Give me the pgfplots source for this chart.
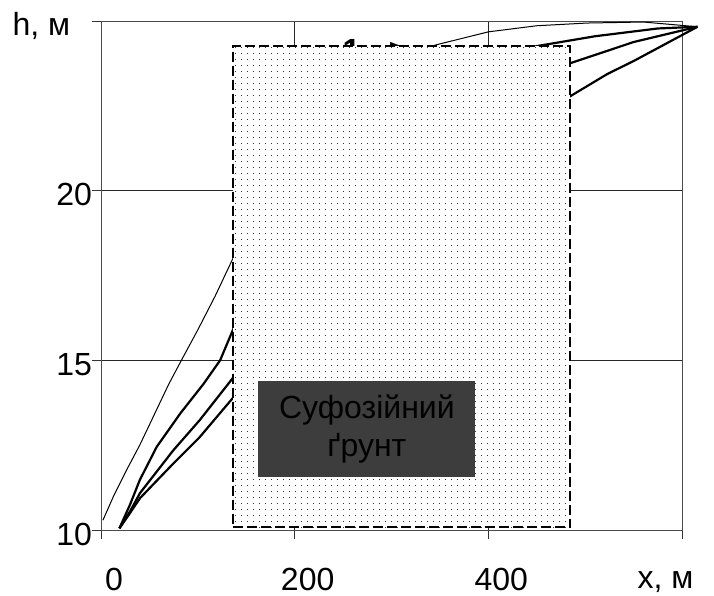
\documentclass[border=0pt]{standalone}
\usepackage{fontspec}
\setmainfont{Liberation Sans}
\usepackage{pgfplots}
\pgfplotsset{compat=1.18}
\usetikzlibrary{patterns.meta}

% stipple fill used by the soil block
\tikzdeclarepattern{
  name=stipple, type=colored,
  bottom left={(0pt,0pt)}, top right={(2.8pt,2.8pt)},
  tile size={(2.8pt,2.8pt)},
  code={\fill[black!80] (0pt,0pt) rectangle (0.5pt,0.5pt);}
}
\newcommand{\lblfont}{\fontsize{16pt}{19pt}\selectfont}

\begin{document}
\begin{tikzpicture}
\begin{axis}[
  scale only axis, width=290.5pt, height=254.5pt,
  xmin=0, xmax=600, ymin=10, ymax=25,
  xtick={0,200,400,600}, xticklabels={0,200,400,},
  ytick={10,15,20,25}, yticklabels={10,15,20,},
  xtick pos=bottom, ytick pos=left,
  tick align=outside, major tick length=4.5pt,
  grid=major, grid style={black!85, line width=0.5pt},
  axis line style={black!70, line width=0.5pt},
  tick style={black!80, line width=0.5pt},
  every tick label/.append style={font=\lblfont},
  /pgf/number format/assume math mode=true,
  xticklabel style={xshift=6.5pt, yshift=-11pt},
  yticklabel style={xshift=3.5pt, yshift=-2pt},
  clip=false,
]
% thin curve
\addplot[black, line width=0.5pt] coordinates {
  (2,10.29)(13,11.0)(27,11.8)(40,12.5)(55,13.4)(70,14.3)(83,15.0)(100,15.9)
  (118,16.9)(137,18.05)(200,20.6)(280,23.1)(345,24.29)(400,24.68)(450,24.86)
  (502,24.94)(560,24.97)(616,24.83)};
% thick curves
\addplot[black, line width=1.1pt] coordinates {
  (19,10.05)(30,10.75)(40,11.47)(57.5,12.45)(82,13.44)(106,14.31)(123,15.0)
  (137,15.95)(250,20.5)(350,23.2)(450,24.26)(510,24.55)(575,24.78)(616,24.83)};
\addplot[black, line width=1.1pt] coordinates {
  (19,10.05)(30,10.55)(40.3,11.09)(74.7,12.35)(102,13.24)(137,14.51)
  (250,18.5)(380,22.2)(485,23.76)(550,24.38)(616,24.83)};
\addplot[black, line width=1.1pt] coordinates {
  (19,10.05)(30,10.5)(40.3,10.94)(74.7,11.96)(102,12.74)(137,13.92)
  (250,17.5)(380,21.0)(485,22.79)(523,23.44)(550,23.82)(616,24.83)};

\node[font=\lblfont\bfseries] at (axis cs:283,24.12) {1\,--\,>};

% suffosion soil block
\addplot[black, line width=1pt, dash pattern=on 5pt off 2pt,
  fill=white, postaction={pattern=stipple}]
  coordinates {(136.5,10.08)(484.8,10.08)(484.8,24.27)(136.5,24.27)} -- cycle;
\addplot[draw=none, fill=black!76]
  coordinates {(162.6,11.55)(386.6,11.55)(386.6,14.38)(162.6,14.38)} -- cycle;

\coordinate (lbl) at (axis cs:274.6,12.965);
\coordinate (hl) at (axis cs:-61.5,24.85);
\coordinate (xl) at (axis cs:583,8.47);
\coordinate (bl) at (rel axis cs:0,0);
\coordinate (tr) at (rel axis cs:1,1);
\end{axis}
\node[font=\lblfont, align=center, fill=black!76, text=black,
  minimum width=108pt, minimum height=47pt, inner sep=0pt] at (lbl)
  {Суфозійний\\ґрунт};
\node[font=\lblfont] at (hl) {h, м};
\node[font=\lblfont] at (xl) {x, м};
\pgfresetboundingbox
\path[use as bounding box] ([shift={(-50.5pt,-32.5pt)}]bl) rectangle ([shift={(16pt,10.5pt)}]tr);
\end{tikzpicture}
\end{document}
